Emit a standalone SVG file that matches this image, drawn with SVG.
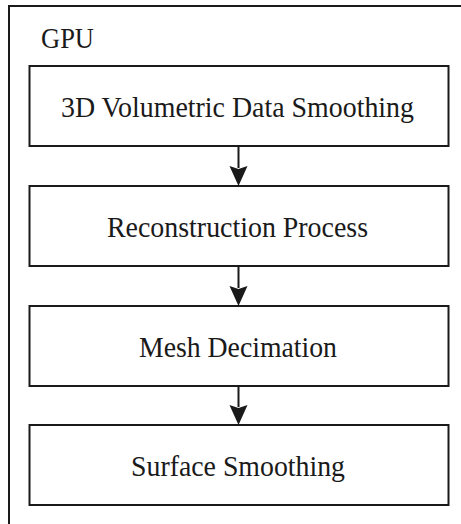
<svg xmlns="http://www.w3.org/2000/svg" width="461" height="524" viewBox="0 0 461 524">
<style>
.box{fill:#fff;stroke:#1a1a1a;stroke-width:2}
.t{font-family:"Liberation Serif","Times New Roman",serif;font-size:30px;fill:#1a1a1a;text-anchor:middle}
.c{stroke:#1a1a1a;stroke-width:2;fill:none}
.ah{fill:#1a1a1a}
</style>
<rect fill="#fff" width="461" height="524"/>
<g id="gpu">
<rect class="box" x="9" y="6" width="470" height="540"/>
<text class="t" x="67.5" y="48" textLength="53" lengthAdjust="spacingAndGlyphs">GPU</text>
</g>
<g id="n1"><rect class="box" x="29.5" y="66" width="419" height="80"/><text class="t" x="237.5" y="116.5" textLength="353" lengthAdjust="spacingAndGlyphs">3D Volumetric Data Smoothing</text></g>
<g id="n2"><rect class="box" x="29.5" y="186" width="419" height="80"/><text class="t" x="237.5" y="237" textLength="261" lengthAdjust="spacingAndGlyphs">Reconstruction Process</text></g>
<g id="n3"><rect class="box" x="29.5" y="306" width="419" height="80"/><text class="t" x="238" y="357" textLength="198" lengthAdjust="spacingAndGlyphs">Mesh Decimation</text></g>
<g id="n4"><rect class="box" x="29.5" y="425" width="419" height="80"/><text class="t" x="238" y="476" textLength="214" lengthAdjust="spacingAndGlyphs">Surface Smoothing</text></g>
<g id="connectors">
<path d="M238.5,147 L238.5,168" class="c"/><path class="ah" d="M229.5,166 L238.5,169 L247.5,166 L238.5,186 Z"/>
<path d="M238.5,267 L238.5,288" class="c"/><path class="ah" d="M229.5,286 L238.5,289 L247.5,286 L238.5,306 Z"/>
<path d="M238.5,387 L238.5,407" class="c"/><path class="ah" d="M229.5,405 L238.5,408 L247.5,405 L238.5,425 Z"/>
</g>
</svg>
